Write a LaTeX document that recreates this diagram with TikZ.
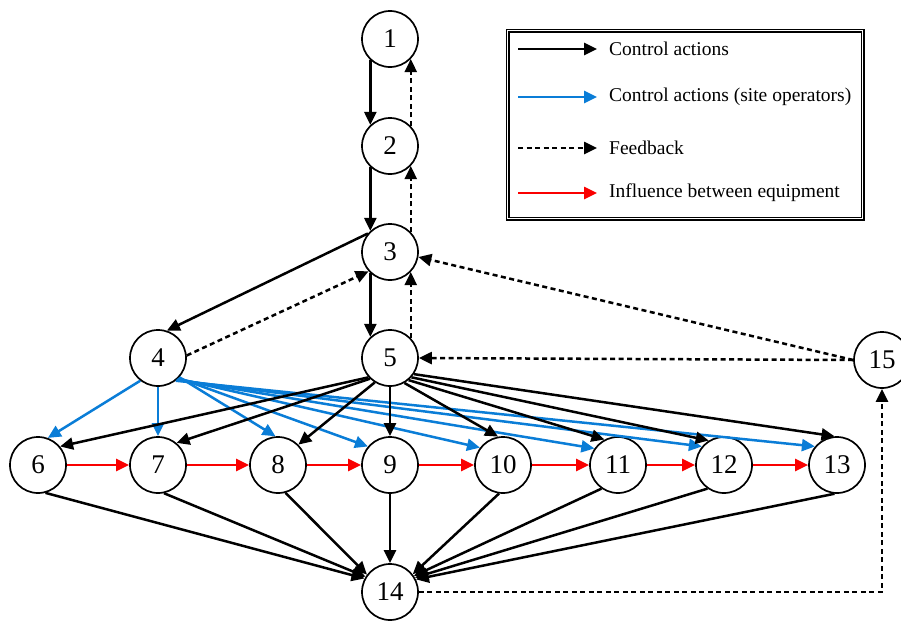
\documentclass[tikz,border=0pt]{standalone}
\usepackage{fontspec}
\setmainfont{Liberation Serif}
\usetikzlibrary{arrows.meta}
\definecolor{opblue}{RGB}{10,125,215}
\definecolor{infred}{RGB}{250,0,0}
\tikzset{
  eq/.style={circle,draw,line width=1.7pt,minimum size=56pt,inner sep=0pt,fill=white,font=\fontsize{27}{27}\selectfont},
  ctrl/.style={line width=2.5pt,-{Triangle[length=13pt,width=12pt]}},
  opctrl/.style={ctrl,draw=opblue,-{Triangle[length=13pt,width=12pt,color=opblue]}},
  fb/.style={ctrl,dash pattern=on 5pt off 3.5pt},
  infl/.style={ctrl,draw=infred,-{Triangle[length=13pt,width=12pt,color=infred]}},
  legtxt/.style={anchor=west,inner sep=0pt,font=\fontsize{19.5}{19.5}\selectfont}
}
\begin{document}
\begin{tikzpicture}[x=1pt,y=-1pt]
\useasboundingbox (0,0) rectangle (901,621);
\clip (0,0) rectangle (901,621);
\fill[white] (0,0) rectangle (901,621);
% nodes
\node[eq] (n1) at (390,39) {1};
\node[eq] (n2) at (390,146) {2};
\node[eq] (n3) at (390,252) {3};
\node[eq] (n4) at (158,358) {4};
\node[eq] (n5) at (390,358) {5};
\node[eq] (n15) at (882,360) {15};
\node[eq] (n6) at (38,465) {6};
\node[eq] (n7) at (158,465) {7};
\node[eq] (n8) at (278,465) {8};
\node[eq] (n9) at (390,465) {9};
\node[eq] (n10) at (503,465) {10};
\node[eq] (n11) at (618,465) {11};
\node[eq] (n12) at (724,465) {12};
\node[eq] (n13) at (837,465) {13};
\node[eq] (n14) at (390,592) {14};
% vertical chain
\draw[ctrl] (n1.227) -- (n2.133);
\draw[ctrl] (n2.227) -- (n3.133);
\draw[ctrl] (n3.227) -- (n5.133);
\draw[fb] (n2.44) -- (n1.316);
\draw[fb] (n3.44) -- (n2.316);
\draw[fb] (n5.44) -- (n3.316);
\draw[ctrl] (n3.140) -- (n4.72);
\draw[fb] (n4.5) -- (n3.222);
\draw[fb] (n15.180) -- (n5.east);
\draw[fb] (n15.180) -- (n3.350);
\draw[fb] (n14.east) -| (n15.south);
% blue from 4
\draw[opctrl] (n4.232) -- (n6.70);
\draw[opctrl] (n4.270) -- (n7.90);
\draw[opctrl] (n4.318) -- (n8.95);
\draw[opctrl] (n4.316) -- (n9.140);
\draw[opctrl] (n4.314) -- (n10.143);
\draw[opctrl] (n4.312) -- (n11.145);
\draw[opctrl] (n4.310) -- (n12.140);
\draw[opctrl] (n4.308) -- (n13.140);
% black from 5
\draw[ctrl] (n5.222) -- (n6.40);
\draw[ctrl] (n5.226) -- (n7.50);
\draw[ctrl] (n5.238) -- (n8.45);
\draw[ctrl] (n5.south) -- (n9.north);
\draw[ctrl] (n5.300) -- (n10.100);
\draw[ctrl] (n5.310) -- (n11.118);
\draw[ctrl] (n5.318) -- (n12.122);
\draw[ctrl] (n5.326) -- (n13.95);
% red chain
\draw[infl] (n6.east) -- (n7.west);
\draw[infl] (n7.east) -- (n8.west);
\draw[infl] (n8.east) -- (n9.west);
\draw[infl] (n9.east) -- (n10.west);
\draw[infl] (n10.east) -- (n11.west);
\draw[infl] (n11.east) -- (n12.west);
\draw[infl] (n12.east) -- (n13.west);
% to 14
\draw[ctrl] (n6.285) -- (n14.152);
\draw[ctrl] (n7.282) -- (n14.148);
\draw[ctrl] (n8.285) -- (n14.143);
\draw[ctrl] (n9.south) -- (n14.north);
\draw[ctrl] (n10.262) -- (n14.38);
\draw[ctrl] (n11.235) -- (n14.34);
\draw[ctrl] (n12.235) -- (n14.30);
\draw[ctrl] (n13.265) -- (n14.26);
% legend
\node[draw,double,line width=1.3pt,double distance=1.2pt,minimum width=355pt,minimum height=188pt,anchor=north west,inner sep=0pt] (leg) at (507,30) {};
\coordinate (l1s) at (518,49); \coordinate (l1e) at (597,49);
\coordinate (l2s) at (518,97); \coordinate (l2e) at (597,97);
\coordinate (l3s) at (518,148); \coordinate (l3e) at (597,148);
\coordinate (l4s) at (518,193); \coordinate (l4e) at (597,193);
\draw[ctrl] (l1s) -- (l1e);
\draw[opctrl] (l2s) -- (l2e);
\draw[fb] (l3s) -- (l3e);
\draw[infl] (l4s) -- (l4e);
\node[legtxt] (t1) at (609,49) {Control actions};
\node[legtxt] (t2) at (609,97) {Control actions (site operators)};
\node[legtxt] (t3) at (609,148) {Feedback};
\node[legtxt] (t4) at (609,193) {Influence between equipment};
\end{tikzpicture}
\end{document}
